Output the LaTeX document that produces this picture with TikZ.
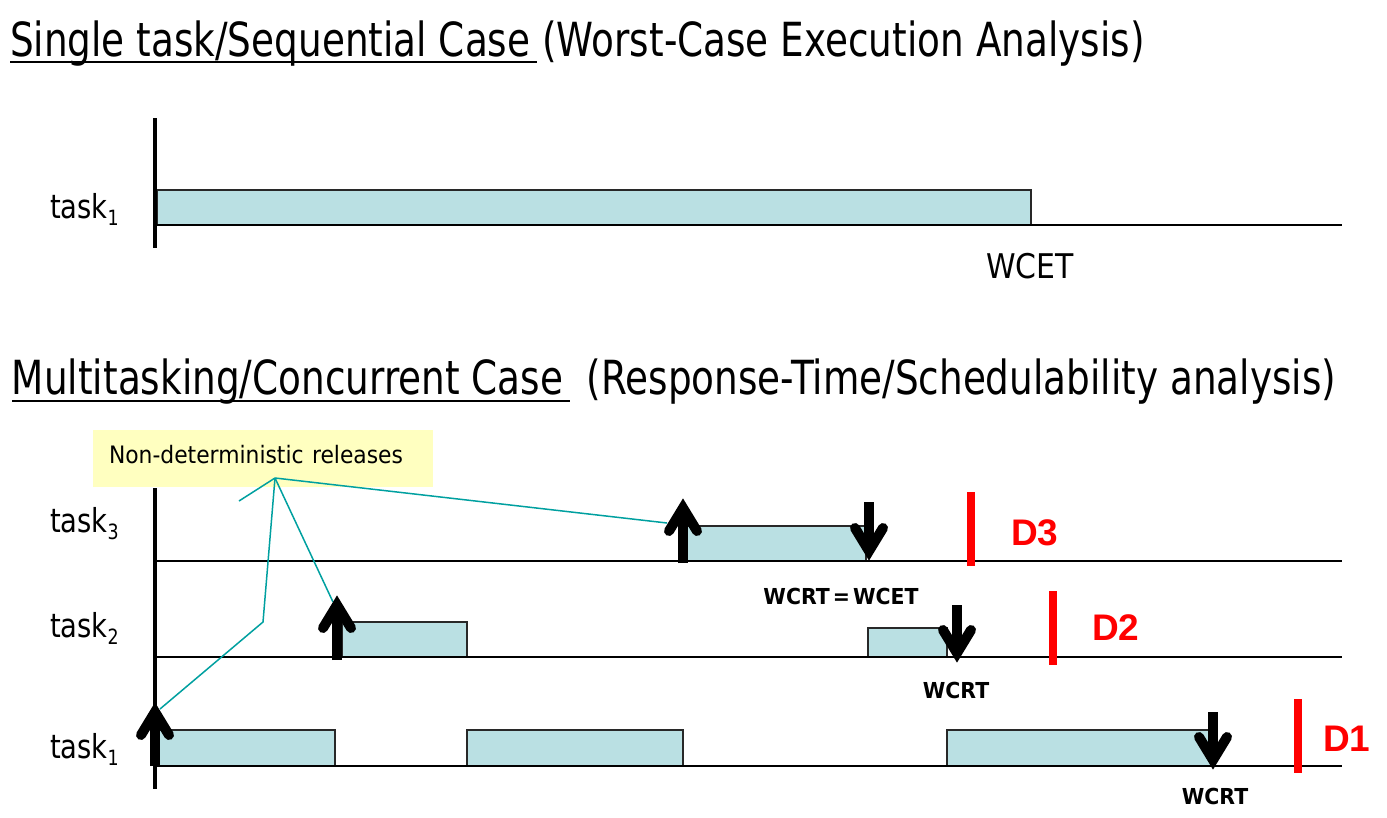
\documentclass[tikz,border=0pt]{standalone}
\usepackage{fontspec}
\setmainfont{DejaVu Sans}
\newfontfamily\titlefont[FakeStretch=0.795]{DejaVu Sans}
\newfontfamily\labfont[FakeStretch=0.83]{DejaVu Sans}
\newfontfamily\wcetfont[FakeStretch=0.88]{DejaVu Sans}
\newfontfamily\notefont[FakeStretch=0.91]{DejaVu Sans}
\newfontfamily\boldlabfont[FakeStretch=0.93]{DejaVu Sans Bold}
\newfontfamily\deadfont{Liberation Sans Bold}
\definecolor{barfill}{RGB}{186,224,227}
\definecolor{barline}{RGB}{40,40,40}
\definecolor{notefill}{RGB}{255,255,192}
\definecolor{noteline}{RGB}{0,160,160}
\definecolor{deadred}{RGB}{255,0,0}
\newcommand\tsub[1]{\raisebox{-7pt}{\fontsize{21}{21}\selectfont #1}}
\newcommand\relup[3]{%
  \draw[shaft] (#1,#3) -- (#1,#2+12);
  \draw[head] (#1-14,#2+33) -- (#1,#2+10) -- (#1+14,#2+33);
}
\newcommand\reldown[3]{%
  \draw[shaft] (#1,#3) -- (#1,#2-12);
  \draw[head] (#1-14,#2-33) -- (#1,#2-10) -- (#1+14,#2-33);
}
\begin{document}
\begin{tikzpicture}[x=1pt,y=-1pt,
  txt/.style={anchor=base west, inner sep=0pt, outer sep=0pt},
  titletxt/.style={txt, font=\titlefont\fontsize{47}{47}\selectfont},
  tasklab/.style={txt, font=\labfont\fontsize{33}{33}\selectfont},
  wlab/.style={anchor=base, inner sep=0pt, font=\boldlabfont\fontsize{22}{22}\selectfont},
  dlab/.style={txt, text=deadred, font=\deadfont\fontsize{37}{37}\selectfont},
  bar/.style={fill=barfill, draw=barline, line width=1.5pt},
  timeline/.style={line width=1.4pt, black},
  axis/.style={line width=4pt, black},
  shaft/.style={line width=10pt, black},
  head/.style={line width=10pt, black, line cap=round, line join=miter},
  deadline/.style={line width=8.5pt, deadred},
  noteconn/.style={line width=1.5pt, noteline},
  uline/.style={line width=2.5pt, black}]
\useasboundingbox (0,0) rectangle (1387,817);
\fill[white] (0,0) rectangle (1387,817);

% ---------- Titles ----------
\node[titletxt] (title1) at (10,56) {Single task/Sequential Case (Worst-Case Execution Analysis)};
\draw[uline] (10,62) -- (537,62);
\node[titletxt] (title2) at (12,394) {Multitasking/Concurrent Case\ \ (Response-Time/Schedulability analysis)};
\draw[uline] (12,401) -- (570,401);

% ---------- Sequential case ----------
\draw[bar] (157,190) rectangle (1031,225);
\draw[timeline] (155,225) -- (1342,225);
\draw[axis] (155,118) -- (155,248);
\node[tasklab] (seqlab) at (50,218) {task\tsub{1}};
\node[anchor=base, inner sep=0pt, font=\wcetfont\fontsize{34}{34}\selectfont] (wcet) at (1030,278) {WCET};

% ---------- Concurrent case ----------
\node[draw=none, fill=notefill, minimum width=340pt, minimum height=57pt, anchor=north west, inner sep=0pt] (note) at (93,430) {};
\node[txt, font=\notefont\fontsize{24}{24}\selectfont] (notetext) at (109,463) {Non-deterministic\hspace{0.35em}releases};

% bars
\draw[bar] (683,526) rectangle (866,561);
\draw[bar] (342,622) rectangle (467,657);
\draw[bar] (868,628) rectangle (947,657);
\draw[bar] (157,730) rectangle (335,766);
\draw[bar] (467,730) rectangle (683,766);
\draw[bar] (947,730) rectangle (1211,766);

% time lines
\draw[timeline] (155,561) -- (1342,561);
\draw[timeline] (155,657) -- (1342,657);
\draw[timeline] (155,766) -- (1342,766);
\draw[axis] (155,488) -- (155,789);

% labels
\node[tasklab] (lab3) at (50,532) {task\tsub{3}};
\node[tasklab] (lab2) at (50,637) {task\tsub{2}};
\node[tasklab] (lab1) at (50,758) {task\tsub{1}};

% note connectors
\coordinate (hub) at (275,478);
\coordinate (c0) at (239,501);
\coordinate (c1a) at (263,622);
\coordinate (c1) at (160,709);
\coordinate (c2) at (333,602);
\coordinate (c3) at (667,523);
\draw[noteconn] (hub) -- (c0);
\draw[noteconn] (hub) -- (c1a) -- (c1);
\draw[noteconn] (hub) -- (c2);
\draw[noteconn] (hub) -- (c3);

% deadlines
\draw[deadline] (971,492) -- (971,566);
\draw[deadline] (1053,591) -- (1053,665);
\draw[deadline] (1298,699) -- (1298,773);
\node[dlab] (d3) at (1011,545) {D3};
\node[dlab] (d2) at (1092,640) {D2};
\node[dlab] (d1) at (1323,751) {D1};

% release / completion arrows
\relup{683}{498}{563}
\relup{337}{595}{660}
\relup{155}{702}{766}
\reldown{869}{561}{502}
\reldown{957}{663}{605}
\reldown{1213}{770}{712}

% response-time labels
\node[wlab] (w3) at (841,604) {WCRT\hspace{3pt}=\hspace{3pt}WCET};
\node[wlab] (w2) at (956,698) {WCRT};
\node[wlab] (w1) at (1215,804) {WCRT};
\end{tikzpicture}
\end{document}
